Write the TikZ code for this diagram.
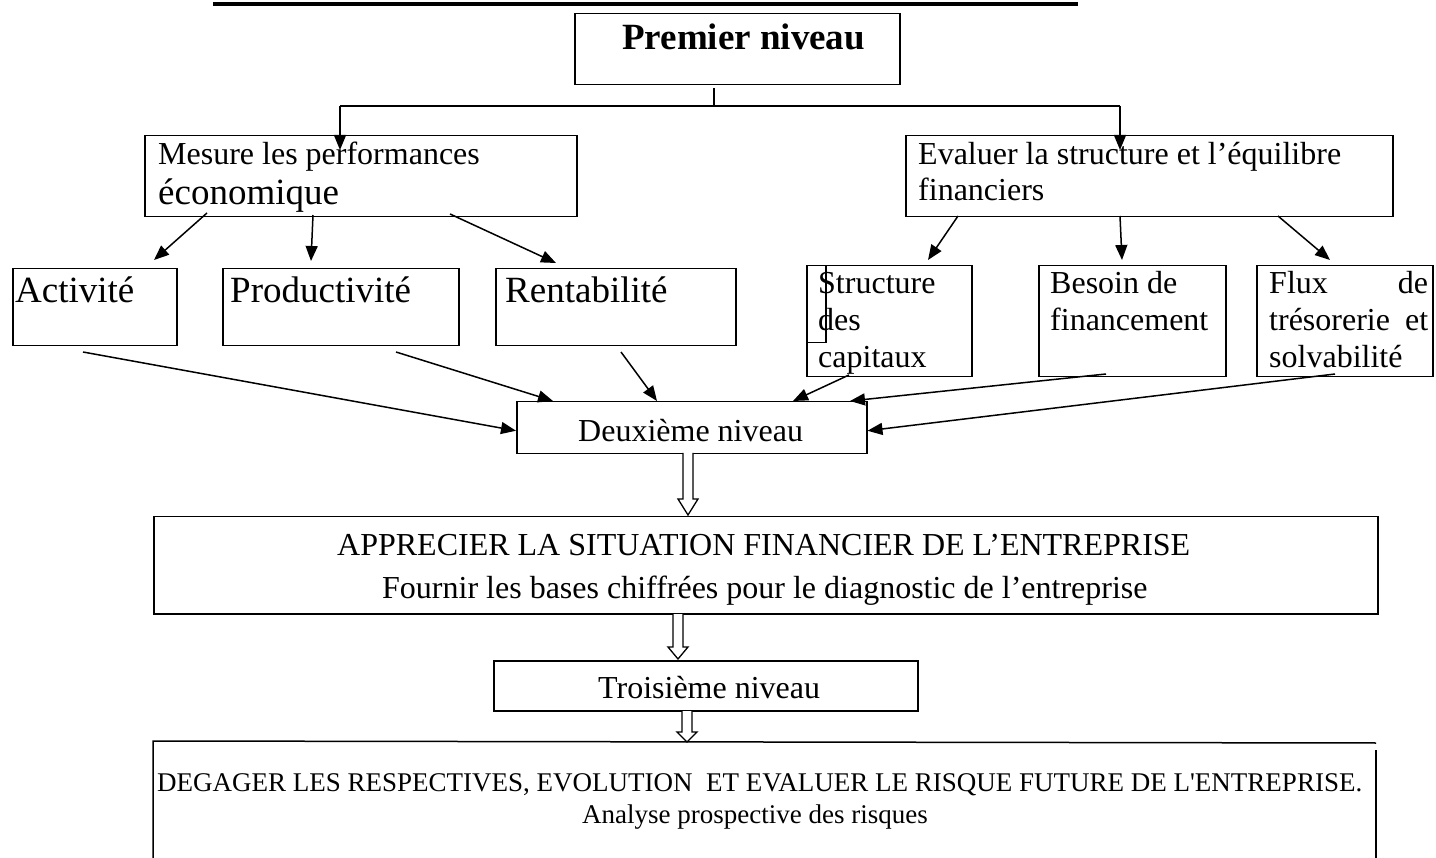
\documentclass[tikz,border=0pt]{standalone}
\usepackage{fontspec}
\setmainfont{Liberation Serif}
\newfontfamily\rawserif{Liberation Serif}
\usetikzlibrary{arrows.meta,calc}
\begin{document}
\begin{tikzpicture}[x=1pt,y=-1pt,
  box/.style={draw,line width=1.5pt,inner sep=0pt,anchor=north west},
  lbl/.style={inner sep=0pt,anchor=base west},
  conn/.style={line width=1.5pt,-{Triangle[length=15pt,width=12pt]}},
  plain/.style={line width=1.5pt},
  hollow/.style={draw,fill=white,line width=1.3pt,line join=miter},
  txt/.style={font=\fontsize{32}{37}\selectfont},
  bigtxt/.style={font=\fontsize{37}{42}\selectfont},
  smalltxt/.style={font=\rawserif\fontsize{27}{32}\selectfont},
]
\useasboundingbox (0,0) rectangle (1436,858);

% heading rule
\draw[line width=4.5pt] (213,4) -- (1078,4);

% first level
\node[box,minimum width=325pt,minimum height=71pt] (premier) at (574,13) {};
\node[lbl,font=\fontsize{37}{42}\selectfont\bfseries] (tpremier) at (622,50) {Premier niveau};

\coordinate (stemtop) at (714,88);
\coordinate (stembot) at (714,106);
\coordinate (brl) at (340,106);
\coordinate (brr) at (1120,106);
\coordinate (tipl) at (340,150);
\coordinate (tipr) at (1120,150);
\draw[plain] (stemtop) -- (stembot);
\draw[plain] (brl) -- (brr);
\draw[conn] (brl) -- (tipl);
\draw[conn] (brr) -- (tipr);

% two branches
\node[box,minimum width=432pt,minimum height=81pt] (mesure) at (144,135) {};
\node[lbl,txt] (tmesure1) at (158,165) {Mesure les performances};
\node[lbl,bigtxt] (tmesure2) at (158,205) {économique};

\node[box,minimum width=487pt,minimum height=81pt] (evaluer) at (905,135) {};
\node[lbl,txt] (teval1) at (918,165) {Evaluer la structure et l’équilibre};
\node[lbl,txt] (teval2) at (918,201) {financiers};

% economic performance items
\node[box,minimum width=164pt,minimum height=77pt] (activite) at (12,268) {};
\node[lbl,bigtxt] (tactivite) at (15,303) {Activité};
\node[box,minimum width=236pt,minimum height=77pt] (productivite) at (222,268) {};
\node[lbl,bigtxt] (tproductivite) at (230,303) {Productivité};
\node[box,minimum width=240pt,minimum height=77pt] (rentabilite) at (495,268) {};
\node[lbl,bigtxt] (trentabilite) at (505,303) {Rentabilité};

\coordinate (ma) at (207,213);  \coordinate (ma2) at (154,260);
\coordinate (mp) at (313,215);  \coordinate (mp2) at (311,261);
\coordinate (mr) at (450,214);  \coordinate (mr2) at (556,263);
\draw[conn] (ma) -- (ma2);
\draw[conn] (mp) -- (mp2);
\draw[conn] (mr) -- (mr2);

% financial structure items
\node[box,minimum width=165pt,minimum height=111pt] (structure) at (806,265) {};
\node[box,minimum width=19pt,minimum height=77pt] (structin) at (806,265) {};
\node[lbl,txt] (tstruct1) at (818,294) {Structure};
\node[lbl,txt] (tstruct2) at (818,331) {des};
\node[lbl,txt] (tstruct3) at (818,368) {capitaux};

\node[box,minimum width=187pt,minimum height=111pt] (besoin) at (1038,265) {};
\node[lbl,txt] (tbesoin1) at (1050,294) {Besoin de};
\node[lbl,txt] (tbesoin2) at (1050,331) {financement};

\node[box,minimum width=176pt,minimum height=111pt] (flux) at (1256,265) {};
\node[lbl,txt] (tflux1) at (1269,294) {\makebox[159pt][s]{Flux\hfill de}};
\node[lbl,txt] (tflux2) at (1269,331) {\makebox[159pt][s]{trésorerie et}};
\node[lbl,txt] (tflux3) at (1269,368) {solvabilité};

\coordinate (es) at (958,216);  \coordinate (es2) at (928,260);
\coordinate (eb) at (1120,216); \coordinate (eb2) at (1122,260);
\coordinate (ef) at (1278,216); \coordinate (ef2) at (1330,260);
\draw[conn] (es) -- (es2);
\draw[conn] (eb) -- (eb2);
\draw[conn] (ef) -- (ef2);

% second level
\node[box,minimum width=350pt,minimum height=52pt] (deux) at (516,401) {};
\node[lbl,txt] (tdeux) at (578,442) {Deuxième niveau};

\coordinate (fa) at (83,352);
\coordinate (fp) at (396,352);
\coordinate (fr) at (621,352);
\coordinate (fs) at (849,375);
\coordinate (fb) at (1106,374);
\coordinate (ff) at (1335,374);
\draw[conn] (fa) -- ($(deux.west)+(0,3)$);
\draw[conn] (fp) -- ($(deux.north west)+(37,0)$);
\draw[conn] (fr) -- ($(deux.north west)+(141,0)$);
\draw[conn] (fs) -- ($(deux.north west)+(277,0)$);
\draw[conn] (fb) -- ($(deux.north west)+(334,0)$);
\draw[conn] (ff) -- ($(deux.east)+(0,3)$);

% hollow arrow down to the appraisal box
\draw[hollow] (683,453) -- (683,499) -- (678,499) -- (688,515) -- (698,499) -- (693,499) -- (693,453);

\node[box,minimum width=1224pt,minimum height=97pt] (apprecier) at (153,516) {};
\node[lbl,txt] (tapp1) at (337,555) {APPRECIER LA SITUATION FINANCIER DE L’ENTREPRISE};
\node[lbl,txt] (tapp2) at (382,598) {Fournir les bases chiffrées pour le diagnostic de l’entreprise};

\draw[hollow] (673,614) -- (673,647) -- (668,647) -- (678,659) -- (688,647) -- (683,647) -- (683,614);

% third level
\node[box,minimum width=424pt,minimum height=50pt] (trois) at (493,660) {};
\node[lbl,txt] (ttrois) at (598,698) {Troisième niveau};

\draw[hollow] (682,711) -- (682,732) -- (677,732) -- (687,742) -- (697,732) -- (692,732) -- (692,711);

% open frame at the bottom
\coordinate (fr1) at (153,741);
\coordinate (fr2) at (1376,743);
\coordinate (fr3) at (153,858);
\coordinate (fr4) at (1376,750);
\coordinate (fr5) at (1376,858);
\draw[plain] (fr3) -- (fr1) -- (fr2);
\draw[plain] (fr4) -- (fr5);
\node[lbl,smalltxt] (tdeg1) at (157,791) {DEGAGER LES RESPECTIVES, EVOLUTION\ \ ET EVALUER LE RISQUE FUTURE DE L'ENTREPRISE.};
\node[lbl,smalltxt] (tdeg2) at (582,823) {Analyse prospective des risques};
\end{tikzpicture}
\end{document}
